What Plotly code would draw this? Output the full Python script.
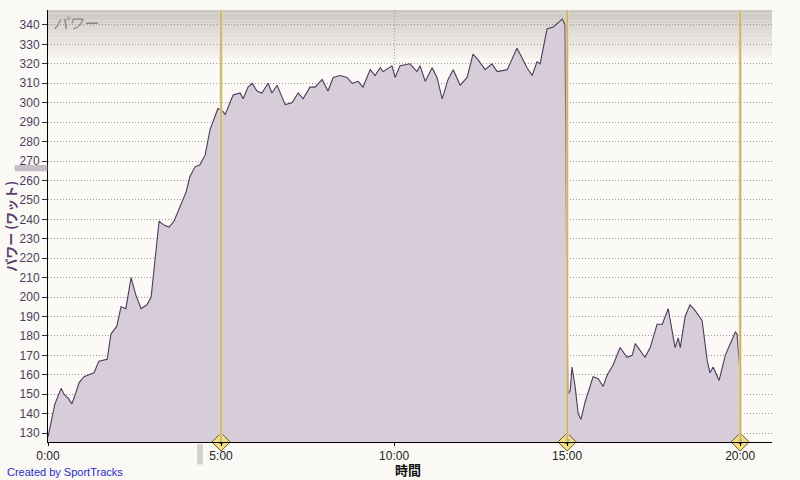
import plotly.graph_objects as go

# elapsed time (minutes) and power (watts)
minutes = [0.00, 0.12, 0.20, 0.38, 0.46, 0.58, 0.69, 0.81, 0.90, 1.04, 1.21, 1.33, 1.47, 1.71,
           1.82, 1.99, 2.11, 2.25, 2.40, 2.54, 2.69, 2.86, 2.98, 3.12, 3.21, 3.35, 3.50, 3.64,
           3.84, 3.99, 4.10, 4.25, 4.39, 4.54, 4.68, 4.83, 4.91, 5.03, 5.12, 5.35, 5.55, 5.64,
           5.78, 5.90, 6.04, 6.18, 6.36, 6.47, 6.62, 6.76, 6.85, 7.05, 7.23, 7.37, 7.57, 7.72,
           7.92, 8.09, 8.24, 8.44, 8.64, 8.79, 8.96, 9.10, 9.31, 9.45, 9.60, 9.68, 9.94, 10.03,
           10.17, 10.46, 10.66, 10.75, 10.90, 11.10, 11.24, 11.39, 11.56, 11.71, 11.91, 12.11,
           12.28, 12.43, 12.63, 12.83, 12.98, 13.27, 13.55, 13.70, 13.84, 13.99, 14.13, 14.22,
           14.42, 14.60, 14.74, 14.86, 14.94, 14.99, 15.03, 15.09, 15.14, 15.23, 15.32, 15.40,
           15.52, 15.61, 15.75, 15.90, 16.04, 16.16, 16.33, 16.53, 16.73, 16.88, 16.97, 17.25,
           17.40, 17.60, 17.75, 17.92, 18.12, 18.21, 18.27, 18.41, 18.55, 18.70, 18.90, 19.05,
           19.13, 19.22, 19.39, 19.57, 19.71, 19.86, 19.91, 20.00]
power = [128, 138, 145, 153, 150, 148, 145, 151, 156, 159, 160, 161, 167, 168,
         181, 185, 195, 194, 210, 201, 194, 196, 200, 226, 239, 237, 236, 239,
         248, 254, 262, 267, 268, 273, 286, 293, 297, 296, 294, 304, 305, 302,
         308, 310, 306, 305, 310, 305, 309, 303, 299, 300, 305, 302, 308, 308,
         312, 306, 313, 314, 313, 310, 311, 308, 317, 314, 318, 316, 319, 313,
         319, 320, 316, 319, 311, 318, 313, 302, 312, 317, 309, 313,
         325, 322, 317, 320, 316, 317, 328, 323, 318, 314, 321, 320,
         338, 339, 341, 343, 340, 200, 150, 152, 164, 154, 140, 137,
         146, 151, 159, 158, 154, 160, 165, 174, 169, 170, 176, 169,
         174, 186, 186, 194, 174, 179, 174, 190, 196, 193, 188, 167,
         161, 164, 157, 170, 176, 182, 181, 160]

lap_minutes = [5, 15, 20]
lap_labels = ["1", "2", "3"]

x_ticks = [0, 5, 10, 15, 20]
x_tick_text = ["0:00", "5:00", "10:00", "15:00", "20:00"]
y_ticks = list(range(130, 341, 10))

x_range = [0, 20.92]
y_range = [125.4, 347.7]

fig = go.Figure()

fig.add_trace(go.Scatter(x=minutes, y=power, mode="lines", fill="tozeroy",
                         fillcolor="#D6CDD8", line=dict(color="#4E3A5C", width=1.1),
                         hoverinfo="skip", showlegend=False))

# lap markers: golden vertical lines with numbered diamonds
for t in lap_minutes:
    fig.add_shape(type="line", xref="x", yref="y domain", x0=t, x1=t, y0=0, y1=1,
                  line=dict(color="#EAD9A8", width=3), layer="above")
    fig.add_shape(type="line", xref="x", yref="y domain", x0=t, x1=t, y0=0, y1=1,
                  line=dict(color="#B89A48", width=1), layer="above")

fig.add_trace(go.Scatter(x=lap_minutes, y=[y_range[0]] * len(lap_minutes), mode="markers+text",
                         text=lap_labels, textfont=dict(size=8, color="#222", family="Liberation Sans"),
                         marker=dict(symbol="diamond", size=14, color="#F2DD82",
                                     line=dict(color="#6B5A2A", width=1)),
                         cliponaxis=False, hoverinfo="skip", showlegend=False))

# grey shading band across the top of the plot
n_band = 14
for i in range(n_band):
    g = int(204 + (250 - 204) * i / n_band)
    fig.add_shape(type="rect", xref="x domain", yref="y domain", x0=0, x1=1,
                  y0=1 - (i + 1) * 0.008, y1=1 - i * 0.008,
                  fillcolor=f"rgb({g},{g - 3},{g - 7})", line=dict(width=0), layer="below")

# small grey slider stubs outside the axes
fig.add_shape(type="rect", xref="paper", yref="paper", x0=-0.046, x1=-0.001, y0=0.627, y1=0.641,
              fillcolor="#C4BFC4", line=dict(width=0))
fig.add_shape(type="rect", xref="paper", yref="paper", x0=0.206, x1=0.214, y0=-0.052, y1=-0.005,
              fillcolor="#D2D0CE", line=dict(width=0))

fig.add_annotation(text="<i>パワー</i>", xref="x domain", yref="y domain", x=0.004, y=1.0,
                   xanchor="left", yanchor="top", showarrow=False,
                   font=dict(size=15, color="#8C8883", family="Noto Sans CJK JP"))
fig.add_annotation(text="<b>パワー (ワット)</b>", xref="paper", yref="paper", x=-0.053, y=0.50,
                   xanchor="center", yanchor="middle", textangle=-90, showarrow=False,
                   font=dict(size=13, color="#5A3D6C", family="Noto Sans CJK JP"))
fig.add_annotation(text="<b>時間</b>", xref="paper", yref="paper", x=0.497, y=-0.0648,
                   xanchor="center", yanchor="middle", showarrow=False, borderpad=0,
                   font=dict(size=13, color="#111", family="Noto Sans CJK JP"))
fig.add_annotation(text="Created by SportTracks", xref="paper", yref="paper", x=-0.0594, y=-0.069,
                   xanchor="left", yanchor="middle", showarrow=False,
                   font=dict(size=11, color="#2B2BC8", family="Liberation Sans"))

fig.update_layout(
    width=800, height=480,
    margin=dict(l=48, r=28, t=10, b=38, autoexpand=False),
    paper_bgcolor="#FAF9F5", plot_bgcolor="#FBFAF7",
    font=dict(family="Liberation Sans", size=12, color="#222"),
    xaxis=dict(range=x_range, tickvals=x_ticks, ticktext=x_tick_text, automargin=False,
               showgrid=True, gridcolor="#9C9A98", griddash="1px,2px", gridwidth=1,
               showline=True, linecolor="#000", linewidth=1, ticks="outside",
               ticklen=3, tickcolor="#000", zeroline=False,
               tickfont=dict(size=12, color="#222")),
    yaxis=dict(range=y_range, tickvals=y_ticks, automargin=False,
               showgrid=True, gridcolor="#9C9A98", griddash="1px,2px", gridwidth=1,
               showline=True, linecolor="#000", linewidth=1, ticks="outside",
               ticklen=5, tickcolor="#333", zeroline=False,
               tickfont=dict(size=12, color="#4B3F5C")),
)

# drop the page's default body margin so the figure sits at the window's corner
fig.write_html("out.html", config={"displayModeBar": False},
               post_script="document.body.style.margin='0';"
                           "document.body.style.overflow='hidden';")
